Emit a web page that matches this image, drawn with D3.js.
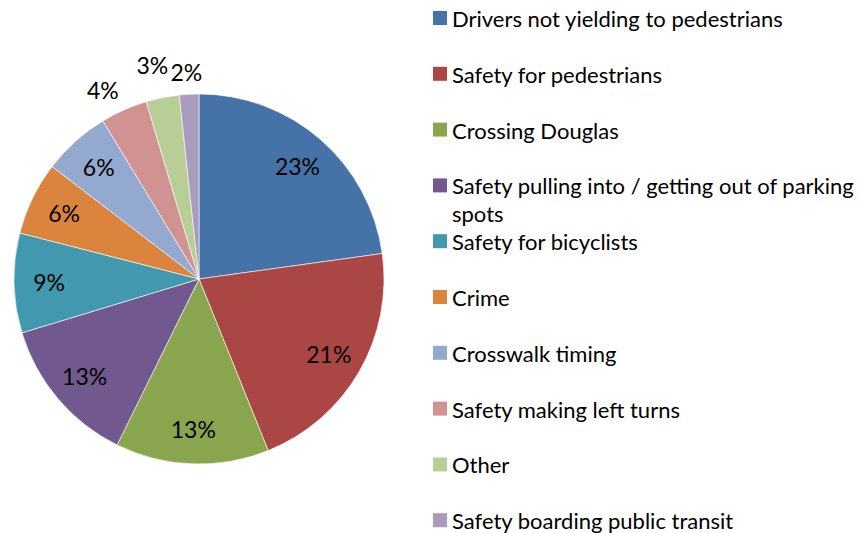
<!DOCTYPE html>
<html><head><meta charset="utf-8">
<script src="https://cdn.jsdelivr.net/npm/d3@7"></script>
<style>body{margin:0;background:#fff}text{font-family:Lato,"Open Sans",sans-serif;fill:#000}</style>
</head><body><svg id="chart" width="861" height="533"></svg>
<script>
const categories = [
  "Drivers not yielding to pedestrians",
  "Safety for pedestrians",
  "Crossing Douglas",
  "Safety pulling into / getting out of parking spots",
  "Safety for bicyclists",
  "Crime",
  "Crosswalk timing",
  "Safety making left turns",
  "Other",
  "Safety boarding public transit"
];
const values = [22.8, 21.1, 13.4, 13.0, 8.7, 6.4, 5.9, 4.1, 2.9, 1.7];
const colors = ["#4572A7","#AA4643","#89A54E","#71588F","#4198AF","#DB843D","#93A9CF","#D19392","#B9CD96","#A99BBD"];

const W = 861, H = 533;
const cx = 199, cy = 279, R = 185;
const svg = d3.select("#chart");
const total = d3.sum(values);
const data = categories.map((c,i)=>({name:c, value:values[i], color:colors[i]}));

const pie = d3.pie().value(d=>d.value).sort(null);
const arcs = pie(data);
const arc = d3.arc().innerRadius(0).outerRadius(R);
const g = svg.append("g").attr("transform",`translate(${cx},${cy})`);

g.selectAll("path.slice").data(arcs).join("path")
  .attr("class","slice")
  .attr("d",arc)
  .attr("fill",d=>d.data.color)
  .attr("stroke","#fff").attr("stroke-width",0.6);

const labelArcIn = d3.arc().innerRadius(150).outerRadius(150);
const fmt = v => Math.round(v/total*100) + "%";
const labels = g.selectAll("text.lbl").data(arcs).join("text")
  .attr("class","lbl")
  .style("font-size","23px")
  .attr("text-anchor","middle")
  .attr("dominant-baseline","central")
  .text(d=>fmt(d.data.value));

// position labels: inside for larger slices, outside (with simple overlap avoidance) for small ones
const placed = [];
labels.each(function(d){
  const pct = d.data.value/total*100;
  const a = (d.startAngle+d.endAngle)/2;
  let x, y;
  if (pct >= 5) {
    [x,y] = labelArcIn.centroid(d);
  } else {
    const r = R + 22;
    x = Math.sin(a)*(r + 30);
    y = -Math.cos(a)*r;
    const w = this.getComputedTextLength(), h = 20;
    placed.forEach(p=>{
      if (Math.abs(p.x - x) < (p.w + w)/2 + 4 && Math.abs(p.y - y) < h) {
        p.y = Math.min(p.y, y - 7);
        d3.select(p.node).attr("transform",`translate(${p.x},${p.y})`);
      }
    });
    placed.push({x,y,w,node:this});
  }
  d3.select(this).attr("transform",`translate(${x},${y})`);
});

// legend
const lx = 433, ly0 = 18, step = 55.8, sq = 14, fs = 22, lineH = 28, maxW = W - 452 - 1;
const leg = svg.append("g");
data.forEach((d,i)=>{
  const y = ly0 + i*step;
  leg.append("rect").attr("x",lx).attr("y",y-sq/2).attr("width",sq).attr("height",sq).attr("fill",d.color);
  const t = leg.append("text").attr("x",452).attr("y",y).attr("dominant-baseline","central").style("font-size",fs+"px");
  const words = d.name.split(" ");
  let line = [], ln = 0;
  let ts = t.append("tspan").attr("x",452).attr("y",y);
  words.forEach(w=>{
    line.push(w);
    ts.text(line.join(" "));
    if (ts.node().getComputedTextLength() > maxW && line.length>1) {
      line.pop(); ts.text(line.join(" "));
      line=[w]; ln++;
      ts = t.append("tspan").attr("x",452).attr("y",y+ln*lineH).text(w);
    }
  });
});
</script></body></html>
